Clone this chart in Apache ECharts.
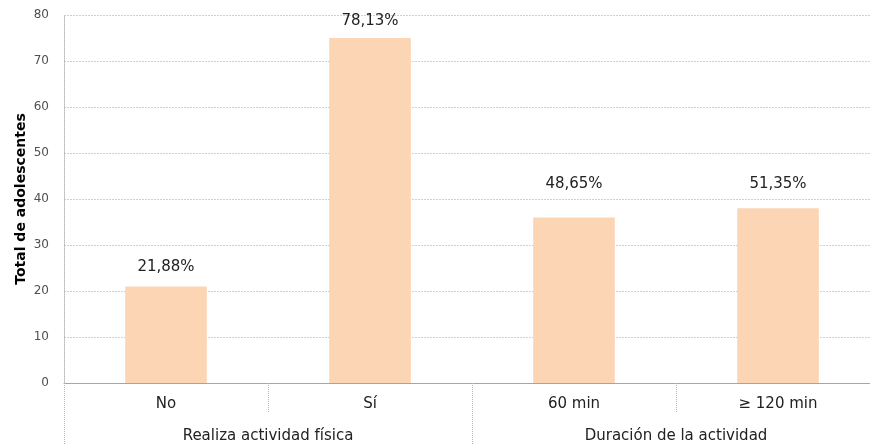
<!DOCTYPE html>
<html><head><meta charset="utf-8">
<script src="https://cdn.jsdelivr.net/npm/echarts@6/dist/echarts.min.js"></script>
<style>html,body{margin:0;padding:0;background:#fff;overflow:hidden}#c{width:880px;height:444px}</style>
</head><body><div id="c"></div>
<script>
const categories = ['No', 'Sí', '60 min', '≥ 120 min'];
const groups = ['Realiza actividad física', 'Duración de la actividad'];
const values = [21, 75, 36, 38];
const pctLabels = ['21,88%', '78,13%', '48,65%', '51,35%'];
const yTicks = [0, 10, 20, 30, 40, 50, 60, 70, 80];

const labelDistances = [12, 9, 26, 17];
const FONT = 'DejaVu Sans';

const chart = echarts.init(document.getElementById('c'), null, {renderer: 'canvas'});
chart.setOption({
  animation: false,
  backgroundColor: '#fff',
  grid: {left: 64, top: 15, height: 368, right: 0, containLabel: false, outerBoundsMode: 'none'},
  xAxis: [{
    type: 'category',
    data: categories,
    position: 'bottom',
    axisLine: {show: true, lineStyle: {color: '#a6a6a6', width: 1}},
    axisTick: {show: true, length: 30, interval: 0, lineStyle: {color: '#b8b8b8', type: 'dotted'}},
    axisLabel: {color: '#222', fontFamily: FONT, fontSize: 15, margin: 14, interval: 0}
  }, {
    type: 'category',
    data: groups,
    position: 'bottom',
    axisLine: {show: false},
    axisTick: {show: true, length: 61, interval: 0, lineStyle: {color: '#b8b8b8', type: 'dotted'}},
    axisLabel: {color: '#222', fontFamily: FONT, fontSize: 15, margin: 46, interval: 0}
  }],
  yAxis: {
    type: 'value',
    min: 0, max: 80, interval: 10,
    name: 'Total de adolescentes',
    nameLocation: 'middle',
    nameGap: 36,
    nameMoveOverlap: false,
    nameTextStyle: {fontFamily: FONT, fontWeight: 'bold', fontSize: 14, color: '#000'},
    axisLine: {show: true, lineStyle: {color: '#b8b8b8', type: 'dotted'}},
    axisTick: {show: false},
    axisLabel: {color: '#505050', fontFamily: FONT, fontSize: 12, margin: 15,
      formatter: v => yTicks.includes(v) ? String(v) : ''},
    splitLine: {show: true, lineStyle: {color: '#d0d0d0', type: [2, 1], width: 1}}
  },
  series: [{
    type: 'bar',
    xAxisIndex: 0,
    barWidth: '40%',
    itemStyle: {color: '#FBD5B4'},
    data: values.map((v, i) => ({
      value: v,
      label: {show: true, position: 'top', distance: labelDistances[i], formatter: pctLabels[i],
        color: '#222', fontFamily: FONT, fontSize: 15}
    }))
  }]
});
</script></body></html>
